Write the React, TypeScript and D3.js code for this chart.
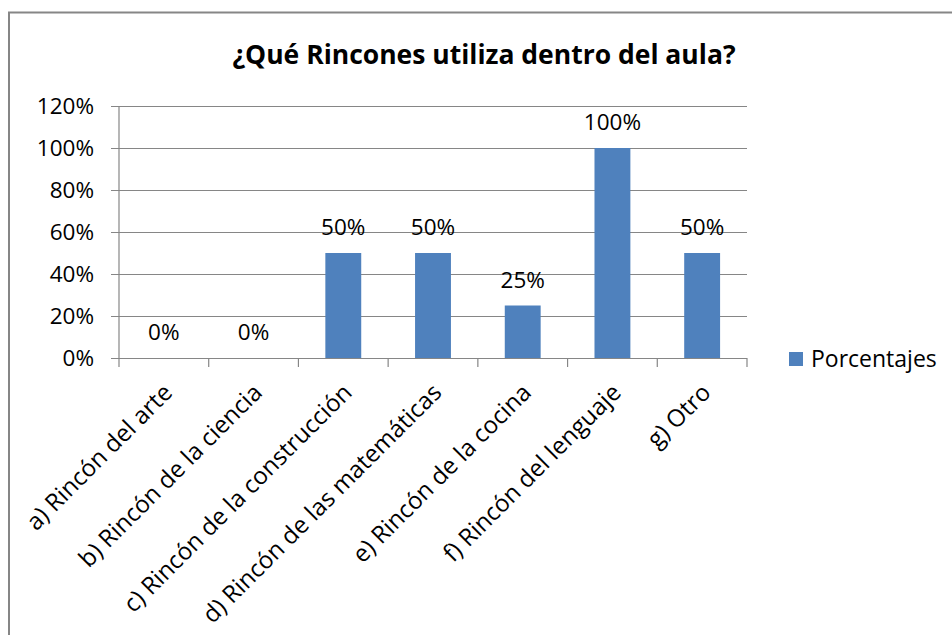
import React, { useEffect, useRef } from "react";
import * as d3 from "d3";

const categories = [
  "a) Rincón del arte",
  "b) Rincón de la ciencia",
  "c) Rincón de la construcción",
  "d) Rincón de las matemáticas",
  "e) Rincón de la cocina",
  "f) Rincón del lenguaje",
  "g) Otro",
];
const values = [0, 0, 0.5, 0.5, 0.25, 1.0, 0.5];
const yTicks = [0, 0.2, 0.4, 0.6, 0.8, 1.0, 1.2];
const seriesName = "Porcentajes";
const title = "¿Qué Rincones utiliza dentro del aula?";

const FONT = "'Open Sans', sans-serif";
const GRAY = "#868686";
const BAR = "#4F81BD";

export default function App() {
  const ref = useRef<SVGSVGElement>(null);

  useEffect(() => {
    const svg = d3.select(ref.current);
    svg.selectAll("*").remove();

    const left = 119, right = 747, top = 106, bottom = 358;
    const x = d3.scaleBand().domain(categories).range([left, right]).paddingInner(0.6).paddingOuter(0.3);
    const xb = d3.scaleBand().domain(categories).range([left, right]);
    const y = d3.scaleLinear().domain([0, 1.2]).range([bottom, top]);

    svg.append("rect").attr("width", 952).attr("height", 635).attr("fill", "#fff");
    svg.append("rect").attr("x", 9).attr("y", 12.5).attr("width", 1200).attr("height", 900)
      .attr("fill", "none").attr("stroke", GRAY).attr("stroke-width", 2);

    svg.append("text").attr("x", 484).attr("y", 64).attr("text-anchor", "middle")
      .attr("font-family", FONT).attr("font-weight", "bold").attr("font-size", 26.5)
      .attr("fill", "#000").text(title);

    // gridlines
    const g = svg.append("g");
    g.selectAll("line.grid").data(yTicks).join("line")
      .attr("x1", left - 8).attr("x2", right)
      .attr("y1", (d) => Math.round(y(d)) + 0.5).attr("y2", (d) => Math.round(y(d)) + 0.5)
      .attr("stroke", GRAY).attr("stroke-width", 1.2);

    g.selectAll("text.yt").data(yTicks).join("text")
      .attr("x", 94).attr("y", (d) => y(d)).attr("dy", "0.36em")
      .attr("text-anchor", "end").attr("font-family", FONT).attr("font-size", 22.5)
      .attr("fill", "#000").text((d) => d3.format(".0%")(d));

    // y axis line
    svg.append("line").attr("x1", left).attr("x2", left).attr("y1", top).attr("y2", bottom)
      .attr("stroke", GRAY).attr("stroke-width", 1.2);

    // bars
    svg.selectAll("rect.bar").data(values).join("rect")
      .attr("x", (_, i) => x(categories[i])!).attr("width", x.bandwidth())
      .attr("y", (d) => y(d)).attr("height", (d) => bottom - y(d)).attr("fill", BAR);

    // x axis
    svg.append("line").attr("x1", left).attr("x2", right).attr("y1", bottom + 0.5).attr("y2", bottom + 0.5)
      .attr("stroke", GRAY).attr("stroke-width", 1.2);
    const edges = [...categories.map((c) => xb(c)!), right];
    svg.selectAll("line.xt").data(edges).join("line")
      .attr("x1", (d) => d).attr("x2", (d) => d).attr("y1", bottom).attr("y2", bottom + 9)
      .attr("stroke", GRAY).attr("stroke-width", 1.2);

    // data labels
    svg.selectAll("text.dl").data(values).join("text")
      .attr("x", (_, i) => xb(categories[i])! + xb.bandwidth() / 2)
      .attr("y", (d) => y(d) - 18)
      .attr("text-anchor", "middle").attr("font-family", FONT).attr("font-size", 22.5)
      .attr("fill", "#000").text((d) => d3.format(".0%")(d));

    // x labels
    svg.selectAll("text.xl").data(categories).join("text")
      .attr("transform", (d) => `translate(${xb(d)! + xb.bandwidth() / 2 + 10},${bottom + 36}) rotate(-45)`)
      .attr("text-anchor", "end").attr("font-family", FONT).attr("font-size", 24)
      .attr("fill", "#000").text((d) => d);

    // legend
    svg.append("rect").attr("x", 789).attr("y", 352).attr("width", 14).attr("height", 14).attr("fill", BAR);
    svg.append("text").attr("x", 811).attr("y", 359).attr("dy", "0.36em")
      .attr("font-family", FONT).attr("font-size", 23).attr("fill", "#000").text(seriesName);
  }, []);

  return (
    <svg ref={ref} width={952} height={635}
      style={{ position: "absolute", left: 0, top: 0, display: "block" }} />
  );
}
